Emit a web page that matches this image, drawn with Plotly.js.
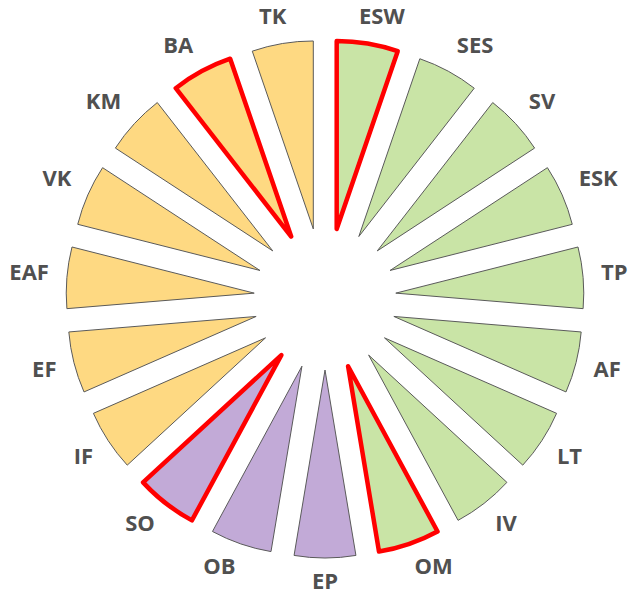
<!DOCTYPE html>
<html>
<head>
<meta charset="utf-8">
<script src="https://cdn.plot.ly/plotly-3.0.1.min.js"></script>
<style>html,body{margin:0;padding:0;background:#fff;}#chart{width:643px;height:600px;}</style>
</head>
<body>
<div id="chart"></div>
<script>
// Categories clockwise from 12 o'clock
var categories = ['ESW','SES','SV','ESK','TP','AF','LT','IV','OM','EP','OB','SO','IF','EF','EAF','VK','KM','BA','TK'];
// Every segment has the same size
var values = [1,1,1,1,1,1,1,1,1,1,1,1,1,1,1,1,1,1,1];
// Group of each segment
var groups = ['g','g','g','g','g','g','g','g','g','p','p','p','y','y','y','y','y','y','y'];
// Highlighted segments (red outline)
var highlighted = ['ESW','OM','SO','BA'];

var groupColors = {g:'#c9e4a6', p:'#c2aad7', y:'#fed982'};
var fillColors = groups.map(function(g){return groupColors[g];});
var lineColors = categories.map(function(c){return highlighted.indexOf(c)>=0 ? '#ff0000' : '#5a5a5a';});
var lineWidths = categories.map(function(c){return highlighted.indexOf(c)>=0 ? 4.5 : 1;});

var W = 643, H = 600;
var cx = 325, cyTop = 299;      // centre of the wheel in px
var outerR = 259;               // outer edge of pulled slices
var pull = 0.378;
var fontSize = 22, fontFamily = 'Open Sans';

var pie = {
  type:'pie',
  labels: categories,
  values: values,
  sort:false,
  direction:'clockwise',
  rotation:0,
  pull:pull,
  textinfo:'none',
  marker:{colors:fillColors, line:{color:lineColors, width:lineWidths}},
  hoverinfo:'none',
  automargin:false,
  domain:{x:[(cx-outerR)/W,(cx+outerR)/W], y:[(H-cyTop-outerR)/H,(H-cyTop+outerR)/H]}
};

// label layer: text placed just outside each slice, anchored by its near corner
var ctx = document.createElement('canvas').getContext('2d');
ctx.font = 'bold ' + fontSize + 'px "' + fontFamily + '"';
var n = categories.length;
var labelX = [], labelY = [];
categories.forEach(function(c,i){
  var a = (i+0.5)*2*Math.PI/n;
  var s = Math.sin(a), co = Math.cos(a);
  var w = ctx.measureText(c).width, h = fontSize*0.7;
  var r0 = 277;
  labelX.push(r0*s + (s>=0?1:-1)*w/2*Math.min(1,3*Math.abs(s)));
  labelY.push(r0*co + (co>=0?1:-1)*h/2*Math.min(1,2.5*Math.abs(co)));
});

var labels = {
  type:'scatter',
  x: labelX,
  y: labelY,
  mode:'text',
  text: categories,
  textposition:'middle center',
  textfont:{family:fontFamily+', sans-serif', size:fontSize, color:'#505050', weight:700},
  cliponaxis:false,
  hoverinfo:'none',
  showlegend:false
};

var layout = {
  width:W, height:H,
  margin:{l:0, r:0, t:0, b:0, pad:0},
  showlegend:false,
  paper_bgcolor:'#ffffff',
  plot_bgcolor:'rgba(0,0,0,0)',
  xaxis:{visible:false, range:[-cx, W-cx], fixedrange:true},
  yaxis:{visible:false, range:[-(H-cyTop), cyTop], fixedrange:true}
};

Plotly.newPlot('chart',[pie, labels],layout,{displayModeBar:false, staticPlot:true});
</script>
</body>
</html>
